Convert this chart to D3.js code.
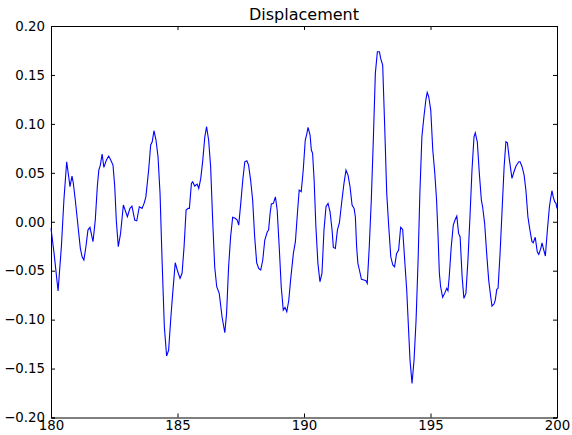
<!DOCTYPE html>
<html>
  <head>
    <meta charset="utf-8">
    <title>Displacement</title>
    <script src="https://cdnjs.cloudflare.com/ajax/libs/d3/7.8.5/d3.min.js"></script>
    <style>
      body { margin: 0; background: #fff; }
      svg text { font-family: "DejaVu Sans", sans-serif; }
    </style>
  </head>
  <body>

    <svg class="chart" width="572" height="435"></svg>

    <script>

      // time (s) and displacement
      var times = [
        180.00,180.12,180.28,180.41,180.51,180.62,180.70,180.75,180.83,180.88,
        180.96,181.07,181.16,181.23,181.30,181.38,181.46,181.54,181.66,181.75,
        181.83,181.89,181.95,182.02,182.09,182.19,182.28,182.36,182.45,182.52,
        182.58,182.66,182.75,182.86,183.02,183.12,183.20,183.31,183.39,183.49,
        183.60,183.68,183.75,183.86,183.94,184.00,184.07,184.15,184.23,184.31,
        184.39,184.48,184.57,184.65,184.73,184.81,184.91,184.99,185.10,185.18,
        185.26,185.34,185.42,185.47,185.55,185.60,185.68,185.78,185.84,185.92,
        186.00,186.08,186.15,186.23,186.31,186.39,186.47,186.55,186.65,186.76,
        186.87,186.94,187.02,187.10,187.18,187.28,187.36,187.42,187.50,187.58,
        187.66,187.74,187.81,187.89,187.97,188.05,188.13,188.21,188.29,188.37,
        188.45,188.55,188.60,188.66,188.71,188.79,188.87,188.94,189.02,189.10,
        189.18,189.25,189.32,189.40,189.47,189.58,189.66,189.74,189.81,189.89,
        189.97,190.05,190.11,190.16,190.24,190.29,190.34,190.40,190.47,190.55,
        190.63,190.71,190.79,190.87,190.95,191.03,191.11,191.16,191.24,191.32,
        191.40,191.50,191.58,191.66,191.74,191.82,191.90,191.98,192.03,192.08,
        192.13,192.19,192.27,192.37,192.45,192.50,192.58,192.66,192.74,192.82,
        192.90,192.98,193.03,193.11,193.19,193.27,193.35,193.43,193.51,193.58,
        193.66,193.74,193.82,193.90,193.98,194.06,194.14,194.19,194.27,194.35,
        194.43,194.51,194.58,194.66,194.74,194.82,194.87,194.93,195.01,195.09,
        195.17,195.24,195.30,195.35,195.40,195.48,195.56,195.64,195.69,195.74,
        195.82,195.90,195.98,196.04,196.11,196.17,196.25,196.32,196.40,196.48,
        196.56,196.64,196.72,196.77,196.85,196.93,197.01,197.06,197.14,197.22,
        197.30,197.38,197.43,197.51,197.56,197.62,197.67,197.75,197.83,197.91,
        197.98,198.04,198.12,198.22,198.30,198.38,198.49,198.54,198.62,198.70,
        198.77,198.85,198.93,199.01,199.06,199.14,199.22,199.28,199.36,199.41,
        199.46,199.54,199.62,199.70,199.75,199.80,199.85,199.91,199.96,200.00
      ];

      var displacement = [
        -0.0067,-0.0320,-0.0708,-0.0255,0.0222,0.0613,0.0460,0.0358,0.0467,0.0398,
        0.0222,-0.0051,-0.0272,-0.0358,-0.0391,-0.0255,-0.0085,-0.0057,-0.0204,0.0017,
        0.0358,0.0528,0.0579,0.0692,0.0556,0.0630,0.0671,0.0630,0.0579,0.0358,
        0.0017,-0.0255,-0.0119,0.0171,0.0051,0.0137,0.0160,0.0017,0.0010,0.0153,
        0.0137,0.0188,0.0255,0.0528,0.0784,0.0817,0.0930,0.0835,0.0664,0.0290,
        -0.0391,-0.1073,-0.1372,-0.1311,-0.1004,-0.0732,-0.0419,-0.0493,-0.0578,-0.0527,
        -0.0255,0.0120,0.0137,0.0137,0.0392,0.0409,0.0365,0.0385,0.0341,0.0443,
        0.0630,0.0868,0.0971,0.0835,0.0562,0.0017,-0.0460,-0.0664,-0.0732,-0.0971,
        -0.1134,-0.0936,-0.0460,-0.0153,0.0045,0.0035,0.0017,-0.0034,0.0188,0.0426,
        0.0613,0.0623,0.0579,0.0426,0.0222,-0.0153,-0.0419,-0.0476,-0.0493,-0.0391,
        -0.0187,-0.0102,-0.0085,0.0086,0.0181,0.0188,0.0255,0.0120,-0.0255,-0.0664,
        -0.0902,-0.0875,-0.0920,-0.0800,-0.0596,-0.0323,-0.0204,0.0086,0.0324,0.0307,
        0.0528,0.0835,0.0896,0.0964,0.0886,0.0733,0.0699,0.0426,-0.0051,-0.0425,
        -0.0613,-0.0527,-0.0085,0.0153,0.0188,0.0102,-0.0085,-0.0262,-0.0272,-0.0085,
        -0.0010,0.0222,0.0392,0.0528,0.0477,0.0358,0.0171,0.0137,0.0051,-0.0255,
        -0.0425,-0.0493,-0.0589,-0.0596,-0.0603,-0.0629,-0.0255,0.0222,0.0835,0.1516,
        0.1737,0.1737,0.1669,0.1601,0.0971,0.0290,-0.0051,-0.0358,-0.0442,-0.0460,
        -0.0323,-0.0289,-0.0057,-0.0078,-0.0391,-0.0698,-0.1140,-0.1413,-0.1651,-0.1413,
        -0.1004,-0.0391,0.0290,0.0868,0.1073,0.1251,0.1322,0.1277,0.1141,0.0733,
        0.0495,0.0222,-0.0153,-0.0527,-0.0664,-0.0772,-0.0732,-0.0680,-0.0705,-0.0562,
        -0.0255,-0.0034,0.0025,0.0058,-0.0119,-0.0153,-0.0562,-0.0783,-0.0732,-0.0391,
        0.0051,0.0528,0.0868,0.0909,0.0817,0.0495,0.0222,0.0153,-0.0016,-0.0323,
        -0.0596,-0.0766,-0.0861,-0.0841,-0.0800,-0.0691,-0.0680,-0.0323,0.0120,0.0562,
        0.0817,0.0807,0.0630,0.0443,0.0511,0.0569,0.0613,0.0613,0.0562,0.0477,
        0.0324,0.0051,-0.0085,-0.0204,-0.0215,-0.0159,-0.0307,-0.0333,-0.0272,-0.0215,
        -0.0272,-0.0350,-0.0085,0.0153,0.0239,0.0317,0.0255,0.0204,0.0188,0.0137
      ];

      var xTicks = [180, 185, 190, 195, 200];
      var yTicks = [-0.20, -0.15, -0.10, -0.05, 0.00, 0.05, 0.10, 0.15, 0.20];

      var margin = { top: 26, right: 15, bottom: 17.5, left: 51 };
      var svg = d3.select("svg.chart");
      var width = 572 - margin.left - margin.right;
      var height = 435 - margin.top - margin.bottom;

      var g = svg.append("g")
        .attr("transform", "translate(" + margin.left + "," + margin.top + ")");

      var x = d3.scaleLinear().domain([180, 200]).range([0, width]);
      var y = d3.scaleLinear().domain([-0.20, 0.20]).range([height, 0]);

      var fmtY = function(d) { return d3.format(".2f")(d).replace("-", "\u2212"); };

      // axes, ticks pointing inward like matplotlib classic
      g.append("g")
        .attr("transform", "translate(0," + height + ")")
        .call(d3.axisBottom(x).tickValues(xTicks).tickSize(-4).tickPadding(3)
          .tickFormat(d3.format("d")));
      g.append("g")
        .call(d3.axisTop(x).tickValues(xTicks).tickSize(-4).tickFormat(""));
      g.append("g")
        .call(d3.axisLeft(y).tickValues(yTicks).tickSize(-4).tickPadding(6)
          .tickFormat(fmtY));
      g.append("g")
        .attr("transform", "translate(" + width + ",0)")
        .call(d3.axisRight(y).tickValues(yTicks).tickSize(-4).tickFormat(""));

      g.selectAll(".domain").attr("stroke", "#000").attr("stroke-width", 1);
      g.selectAll(".tick line").attr("stroke", "#000");
      g.selectAll(".tick text")
        .attr("fill", "#000")
        .style("font-size", "13.33px")
        .style("font-family", "DejaVu Sans");

      var line = d3.line()
        .x(function(d, i) { return x(times[i]); })
        .y(function(d) { return y(d); });

      g.append("path")
        .datum(displacement)
        .attr("fill", "none")
        .attr("stroke", "#0000ff")
        .attr("stroke-width", 1.1)
        .attr("d", line);

      svg.append("text")
        .attr("x", margin.left + width / 2)
        .attr("y", 20)
        .attr("text-anchor", "middle")
        .style("font-size", "16px")
        .style("font-family", "DejaVu Sans")
        .text("Displacement");

    </script>
  </body>
</html>
